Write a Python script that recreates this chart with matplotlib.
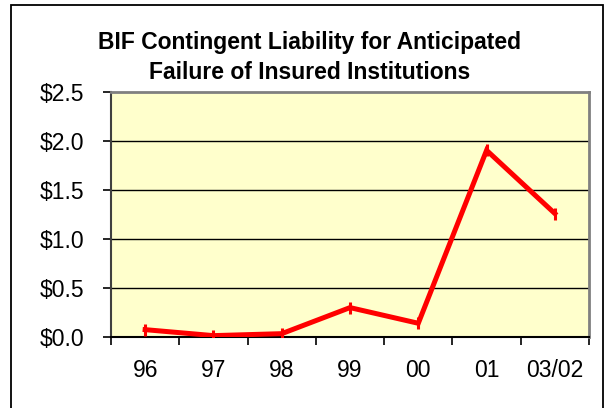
import matplotlib
matplotlib.use("Agg")
import matplotlib.pyplot as plt
from matplotlib.patches import Rectangle

# data (billions of dollars)
years = ["96", "97", "98", "99", "00", "01", "03/02"]
liability = [0.075, 0.014, 0.034, 0.30, 0.14, 1.905, 1.26]
y_ticks = [0.0, 0.5, 1.0, 1.5, 2.0, 2.5]

plt.rcParams["font.family"] = ["Liberation Sans", "DejaVu Sans"]

fig = plt.figure(figsize=(6.1, 4.08), dpi=100)
# chart border (bottom edge runs off the picture)
fig.patches.append(Rectangle((11 / 610, -0.05), 592 / 610, 1.05 - 5 / 408,
                             transform=fig.transFigure, fill=False,
                             edgecolor="black", linewidth=1.3))

ax = fig.add_axes([111 / 610, 1 - 337 / 408, 478 / 610, 245 / 408])
ax.set_facecolor("#FFFFCC")

xs = [i + 0.5 for i in range(len(years))]
ax.plot(xs, liability, color="#FF0000", linewidth=3.6, zorder=3,
        marker="|", markersize=9, markeredgewidth=2.2, solid_joinstyle="miter")

ax.set_xlim(0, len(years))
ax.set_ylim(0, 2.5)
ax.set_yticks(y_ticks)
ax.set_yticklabels(["$%.1f" % v for v in y_ticks], fontsize=16.5)
ax.set_xticks(range(len(years) + 1))
ax.set_xticklabels([])
ax.set_xticks(xs, minor=True)
ax.set_xticklabels(years, minor=True, fontsize=16.5)
ax.tick_params(axis="x", which="minor", length=0, pad=16)
ax.tick_params(axis="x", which="major", length=6, width=1.2, color="black")
ax.tick_params(axis="y", length=6, width=1.2, pad=13)

for v in y_ticks[1:-1]:
    ax.axhline(v, color="black", linewidth=1.0, zorder=1)

for side in ["top", "right"]:
    ax.spines[side].set_color("#808080")
    ax.spines[side].set_linewidth(2)
ax.spines["left"].set_color("#404040")
ax.spines["left"].set_linewidth(1.5)
ax.spines["bottom"].set_color("black")
ax.spines["bottom"].set_linewidth(1.5)

fig.text(310 / 610, 1 - 57.5 / 408,
         "BIF Contingent Liability for Anticipated\nFailure of Insured Institutions",
         ha="center", va="center", fontsize=16.5, fontweight="bold", linespacing=1.38)

fig.savefig("out.png", dpi=100)
